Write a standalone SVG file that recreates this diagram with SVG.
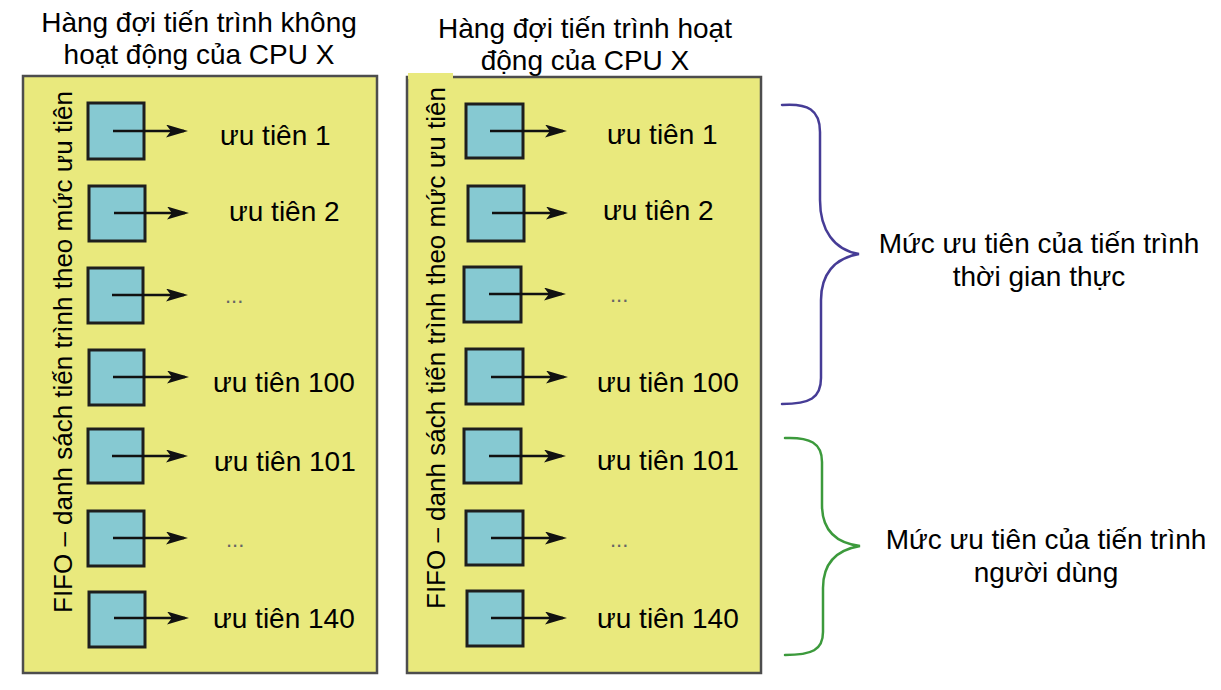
<svg xmlns="http://www.w3.org/2000/svg" width="1221" height="690" viewBox="0 0 1221 690">
<defs>
<style>
.t{font-family:"Liberation Sans",Arial,sans-serif;font-size:28px;fill:#000}
.lbl{font-family:"Liberation Sans",Arial,sans-serif;font-size:28px;fill:#000}
.vt{font-family:"Liberation Sans",Arial,sans-serif;font-size:26px;fill:#000}
.dots{font-family:"Liberation Sans",Arial,sans-serif;font-size:22px;fill:#666}
.panel{fill:#e9e97d;stroke:#4d4d4d;stroke-width:2.5}
.box{fill:#86c9d2;stroke:#1e1e1e;stroke-width:3}
.arr{stroke:#111;stroke-width:2.5;fill:none;marker-end:url(#ah)}
.brace{fill:none;stroke-width:2.5;stroke-linecap:round}
</style>
<marker id="ah" markerUnits="userSpaceOnUse" markerWidth="24" markerHeight="14" refX="18" refY="6.5" orient="auto">
<path d="M0,0 L22,6.5 L0,13 L5,6.5 z" fill="#111"/>
</marker>
</defs>
<rect width="1221" height="690" fill="#fff"/>

<g id="title-left">
<text class="t" x="199" y="32" text-anchor="middle">Hàng đợi tiến trình không</text>
<text class="t" x="199" y="64" text-anchor="middle">hoạt động của CPU X</text>
</g>
<g id="title-right">
<text class="t" x="585" y="38" text-anchor="middle">Hàng đợi tiến trình hoạt</text>
<text class="t" x="585" y="70" text-anchor="middle">động của CPU X</text>
</g>

<g id="panel-left">
<rect class="panel" x="23" y="76" width="354" height="597"/>
<text class="vt" transform="translate(72,613) rotate(-90)">FIFO – danh sách tiến trình theo mức ưu tiên</text>
</g>
<g id="panel-right">
<rect class="panel" x="407" y="77" width="354" height="596"/>
<rect x="408" y="73" width="45" height="6" fill="#e9e97d"/>
<text class="vt" transform="translate(445,609) rotate(-90)">FIFO – danh sách tiến trình theo mức ưu tiên</text>
</g>

<g id="left-queue">
<g id="L1"><rect class="box" x="88" y="103" width="56" height="56"/><text class="lbl" x="220" y="145">ưu tiên 1</text></g>
<g id="L2"><rect class="box" x="89" y="186" width="56" height="55"/><text class="lbl" x="229" y="221">ưu tiên 2</text></g>
<g id="L3"><rect class="box" x="88" y="268" width="55" height="55"/><text class="dots" x="225" y="303">...</text></g>
<g id="L4"><rect class="box" x="89" y="350" width="55" height="55"/><text class="lbl" x="213" y="392">ưu tiên 100</text></g>
<g id="L5"><rect class="box" x="88" y="429" width="55" height="54"/><text class="lbl" x="214" y="471">ưu tiên 101</text></g>
<g id="L6"><rect class="box" x="88" y="511" width="56" height="55"/><text class="dots" x="226" y="547">...</text></g>
<g id="L7"><rect class="box" x="89" y="592" width="56" height="55"/><text class="lbl" x="213" y="628">ưu tiên 140</text></g>
</g>

<g id="right-queue">
<g id="R1"><rect class="box" x="466" y="104" width="57" height="54"/><text class="lbl" x="607" y="144">ưu tiên 1</text></g>
<g id="R2"><rect class="box" x="468" y="186" width="56" height="55"/><text class="lbl" x="603" y="220">ưu tiên 2</text></g>
<g id="R3"><rect class="box" x="464" y="267" width="57" height="55"/><text class="dots" x="610" y="302">...</text></g>
<g id="R4"><rect class="box" x="466" y="349" width="57" height="55"/><text class="lbl" x="597" y="392">ưu tiên 100</text></g>
<g id="R5"><rect class="box" x="464" y="429" width="57" height="54"/><text class="lbl" x="597" y="470">ưu tiên 101</text></g>
<g id="R6"><rect class="box" x="466" y="511" width="57" height="54"/><text class="dots" x="610" y="547">...</text></g>
<g id="R7"><rect class="box" x="467" y="591" width="56" height="55"/><text class="lbl" x="597" y="628">ưu tiên 140</text></g>
</g>

<g id="connectors">
<line class="arr" x1="113" y1="131" x2="184" y2="131"/>
<line class="arr" x1="114" y1="213" x2="185" y2="213"/>
<line class="arr" x1="112" y1="295" x2="184" y2="295"/>
<line class="arr" x1="113" y1="377" x2="185" y2="377"/>
<line class="arr" x1="112" y1="456" x2="184" y2="456"/>
<line class="arr" x1="113" y1="538" x2="184" y2="538"/>
<line class="arr" x1="114" y1="618" x2="185" y2="618"/>
<line class="arr" x1="490" y1="131" x2="563" y2="131"/>
<line class="arr" x1="492" y1="213" x2="564" y2="213"/>
<line class="arr" x1="489" y1="294" x2="562" y2="294"/>
<line class="arr" x1="491" y1="377" x2="564" y2="377"/>
<line class="arr" x1="489" y1="456" x2="562" y2="456"/>
<line class="arr" x1="491" y1="538" x2="563" y2="538"/>
<line class="arr" x1="491" y1="618" x2="563" y2="618"/>
</g>

<g id="group-realtime">
<path class="brace" stroke="#463c96" d="M782,105 C808,103 820,110 820,132 L820,200 C820,230 834,250 859,254 C834,258 821,275 821,300 L821,378 C821,398 810,404 782,404"/>
<text class="t" x="1039" y="253" text-anchor="middle">Mức ưu tiên của tiến trình</text>
<text class="t" x="1039" y="286" text-anchor="middle">thời gian thực</text>
</g>
<g id="group-user">
<path class="brace" stroke="#3c9a3c" d="M785,438 C810,437 822,443 822,462 L822,505 C822,530 836,543 860,546 C836,550 823,563 823,588 L823,632 C823,650 812,655 785,655"/>
<text class="t" x="1046" y="549" text-anchor="middle">Mức ưu tiên của tiến trình</text>
<text class="t" x="1046" y="582" text-anchor="middle">người dùng</text>
</g>
</svg>
